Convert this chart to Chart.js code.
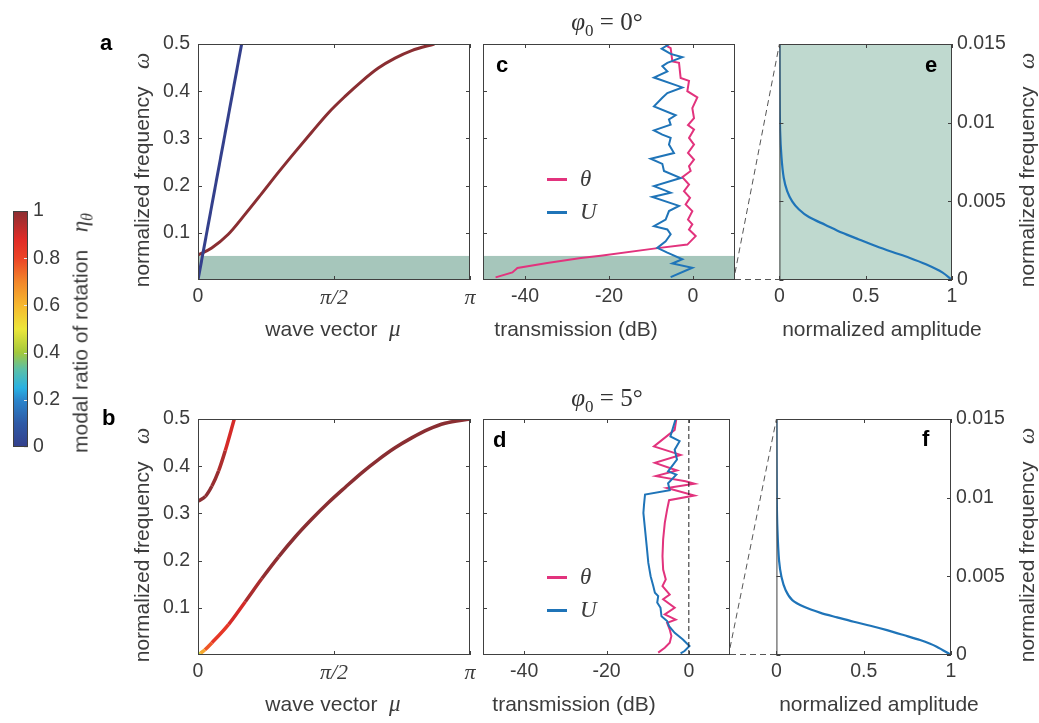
<!DOCTYPE html>
<html>
<head>
<meta charset="utf-8">
<script src="https://cdn.jsdelivr.net/npm/chart.js@4.4.0/dist/chart.umd.min.js"></script>
<style>
body { margin: 0; background: #fff; }
#fig { position: relative; width: 1039px; height: 723px; overflow: hidden; font-family: 'Liberation Sans', Arial, sans-serif; color: #3c3c3c; }
#fig canvas { position: absolute; }
.lbl { position: absolute; white-space: nowrap; font-size: 21px; line-height: 1; transform: translate(-50%, -50%); }
.rot { transform: translate(-50%, -50%) rotate(-90deg); }
.m { font-family: 'Liberation Serif', 'DejaVu Serif', serif; font-style: italic; font-size: 23px; }
.tt { font-family: 'Liberation Serif', 'DejaVu Serif', serif; font-size: 25px; color: #333; }
.sub { font-size: 17px; position: relative; top: 6px; font-style: normal; }
.let { position: absolute; font-weight: bold; font-size: 22px; line-height: 1; color: #000; }
.leg { position: absolute; display: flex; align-items: center; transform: translateY(-50%); }
.sw { display: inline-block; width: 20px; height: 3px; margin-right: 13px; }
</style>
</head>
<body>
<div id="fig">
  <canvas id="cbar"></canvas>
  <canvas id="pa"></canvas>
  <canvas id="pc"></canvas>
  <canvas id="pe"></canvas>
  <canvas id="pb"></canvas>
  <canvas id="pd"></canvas>
  <canvas id="pf"></canvas>
  <canvas id="links" width="1039" height="723"></canvas>

  <div class="lbl tt" style="left:607px;top:21px"><span class="m" style="font-size:25px">φ</span><span class="sub">0</span>&nbsp;=&nbsp;0°</div>
  <div class="lbl tt" style="left:607px;top:397px"><span class="m" style="font-size:25px">φ</span><span class="sub">0</span>&nbsp;=&nbsp;5°</div>

  <div class="let" style="left:100px;top:32px">a</div>
  <div class="let" style="left:102px;top:407px">b</div>
  <div class="let" style="left:496px;top:54px">c</div>
  <div class="let" style="left:493px;top:429px">d</div>
  <div class="let" style="left:925px;top:54px">e</div>
  <div class="let" style="left:922px;top:428px">f</div>

  <div class="lbl rot" style="left:141px;top:170px">normalized frequency&nbsp;&nbsp;&nbsp;<span class="m">ω</span></div>
  <div class="lbl rot" style="left:141px;top:545px">normalized frequency&nbsp;&nbsp;&nbsp;<span class="m">ω</span></div>
  <div class="lbl rot" style="left:1026px;top:170px">normalized frequency&nbsp;&nbsp;&nbsp;<span class="m">ω</span></div>
  <div class="lbl rot" style="left:1026px;top:545px">normalized frequency&nbsp;&nbsp;&nbsp;<span class="m">ω</span></div>
  <div class="lbl rot" style="left:80px;top:333px">modal ratio of rotation&nbsp;&nbsp;&nbsp;<span class="m">η</span><span class="m" style="font-size:16px;position:relative;top:5px">θ</span></div>

  <div class="lbl" style="left:333px;top:328px">wave vector&nbsp;&nbsp;<span class="m">μ</span></div>
  <div class="lbl" style="left:333px;top:703px">wave vector&nbsp;&nbsp;<span class="m">μ</span></div>
  <div class="lbl" style="left:576px;top:328px">transmission (dB)</div>
  <div class="lbl" style="left:574px;top:703px">transmission (dB)</div>
  <div class="lbl" style="left:882px;top:328px">normalized amplitude</div>
  <div class="lbl" style="left:879px;top:703px">normalized amplitude</div>

  <div class="leg" style="left:547px;top:179px"><i class="sw" style="background:#e2337d"></i><span class="m">θ</span></div>
  <div class="leg" style="left:547px;top:212px"><i class="sw" style="background:#1f74b8"></i><span class="m">U</span></div>
  <div class="leg" style="left:547px;top:577px"><i class="sw" style="background:#e2337d"></i><span class="m">θ</span></div>
  <div class="leg" style="left:547px;top:610px"><i class="sw" style="background:#1f74b8"></i><span class="m">U</span></div>
</div>

<script>
// ---- data ----
var muTicks = [0, Math.PI / 2, Math.PI];
var muTickLabels = ['0', 'π/2', 'π'];
var omegaTicks = [0.1, 0.2, 0.3, 0.4, 0.5];
var dbTicks = [-40, -20, 0];
var ampTicks = [0, 0.5, 1];
var zoomTicks = [0, 0.005, 0.01, 0.015];
var cbarTicks = [0, 0.2, 0.4, 0.6, 0.8, 1];
var stopBand = [0, 0.051];

// a: phi0 = 0 dispersion
var aBlueMu = [0, 0.504];
var aBlueOmega = [0, 0.5];
var aRedMu = [0, 0.158, 0.35, 0.543, 0.735, 0.928, 1.12, 1.313, 1.505, 1.698, 1.891, 2.083, 2.276, 2.468, 2.73];
var aRedOmega = [0.053, 0.068, 0.097, 0.139, 0.183, 0.228, 0.271, 0.313, 0.354, 0.389, 0.421, 0.449, 0.470, 0.486, 0.5];

// b: phi0 = 5 dispersion (with modal ratio eta)
var bLowMu = [0, 0.03, 0.08, 0.161, 0.354, 0.546, 0.738, 0.930, 1.122, 1.315, 1.507, 1.699, 1.891, 2.084, 2.276, 2.468, 2.66, 2.853, 3.1416];
var bLowOmega = [0, 0.004, 0.011, 0.026, 0.065, 0.113, 0.162, 0.208, 0.250, 0.288, 0.323, 0.355, 0.386, 0.414, 0.439, 0.460, 0.478, 0.491, 0.5];
var bLowEta = [0.35, 0.55, 0.72, 0.82, 0.86, 0.93, 0.98, 1, 1, 1, 1, 1, 1, 1, 1, 1, 1, 1, 1];
var bUpMu = [0, 0.085, 0.161, 0.238, 0.315, 0.419];
var bUpOmega = [0.326, 0.336, 0.358, 0.39, 0.433, 0.5];
var bUpEta = [1, 1, 0.99, 0.97, 0.93, 0.86];

// c: transmission, phi0 = 0
var cUdB = [-5.56, -7.46, -5.32, -2.54, -6.11, -7.30, -6.11, -9.29, -2.54, -6.11, -7.30, -9.29, -4.13, -5.72, -5.32, -9.29, -7.30, -5.32, -5.72, -4.53, -10.08, -7.30, -6.91, -2.94, -9.29, -5.32, -9.69, -3.33, -5.72, -6.51, -9.29, -6.11, -5.32, -6.51, -8.50, -6.11, -2.54, -4.92, -0.16, -5.32];
var cUOmega = [0.500, 0.490, 0.479, 0.472, 0.460, 0.453, 0.442, 0.429, 0.408, 0.396, 0.386, 0.368, 0.349, 0.340, 0.329, 0.317, 0.308, 0.301, 0.287, 0.269, 0.257, 0.246, 0.231, 0.216, 0.199, 0.185, 0.176, 0.157, 0.146, 0.128, 0.114, 0.107, 0.097, 0.082, 0.068, 0.058, 0.044, 0.035, 0.026, 0.006];
var cThetaDB = [-6.51, -5.32, -4.92, -3.33, -2.94, -0.95, -1.35, 1.03, -0.16, 0.24, -1.19, 0.24, -0.95, 0.24, -1.19, 0.24, -0.95, -0.56, -2.54, -0.95, -2.14, -0.71, -1.75, -0.16, -1.19, -0.16, -0.95, 0.64, -1.35, -8.89, -21.98, -26.7, -34.7, -41.8, -43.0, -47.0];
var cThetaOmega = [0.497, 0.491, 0.463, 0.460, 0.428, 0.422, 0.400, 0.387, 0.364, 0.343, 0.328, 0.319, 0.301, 0.287, 0.269, 0.255, 0.241, 0.231, 0.218, 0.202, 0.188, 0.174, 0.160, 0.146, 0.128, 0.118, 0.107, 0.093, 0.075, 0.067, 0.0514, 0.0465, 0.036, 0.0254, 0.016, 0.0055];

// d: transmission, phi0 = 5
var dUdB = [-3.2, -4.48, -2.24, -3.44, -2.88, -5.04, -3.04, -5.04, -4.64, -10.64, -10.88, -11.04, -10.64, -10.24, -9.84, -9.28, -8.64, -8.24, -7.44, -7.68, -6.88, -6.64, -5.28, -4.8, -3.44, -1.44, 0.16, -1.04, -2.0];
var dUOmega = [0.5, 0.463, 0.453, 0.435, 0.414, 0.389, 0.382, 0.364, 0.349, 0.340, 0.319, 0.301, 0.266, 0.231, 0.195, 0.167, 0.146, 0.132, 0.125, 0.111, 0.100, 0.082, 0.072, 0.061, 0.047, 0.033, 0.019, 0.0085, 0.0035];
var dThetaDB = [-3.04, -3.44, -8.48, -2.0, -8.24, -2.88, -8.0, -0.8, 1.36, -5.28, 1.36, -4.8, -5.28, -5.84, -6.24, -6.4, -6.24, -5.6, -6.4, -4.64, -6.24, -3.44, -5.84, -3.2, -5.28, -4.64, -4.24, -4.64, -5.84, -7.44];
var dThetaOmega = [0.5, 0.477, 0.442, 0.424, 0.407, 0.391, 0.379, 0.368, 0.363, 0.354, 0.338, 0.328, 0.308, 0.28, 0.245, 0.209, 0.181, 0.160, 0.146, 0.128, 0.118, 0.100, 0.086, 0.075, 0.068, 0.054, 0.040, 0.026, 0.0155, 0.005];
var zeroLineDB = [0, 0];
var zeroLineOmega = [0, 0.5];

// e, f: amplitude profiles
var eAmp = [1, 0.946, 0.849, 0.752, 0.655, 0.558, 0.461, 0.364, 0.267, 0.171, 0.112, 0.074, 0.045, 0.025, 0.012, 0.004, 0.001, 0];
var eOmega = [0, 0.00047, 0.001, 0.00142, 0.00178, 0.00216, 0.00258, 0.003, 0.0035, 0.004, 0.0045, 0.005, 0.00565, 0.0065, 0.0078, 0.0095, 0.0122, 0.015];
var fAmp = [1, 0.918, 0.823, 0.728, 0.633, 0.538, 0.443, 0.348, 0.253, 0.158, 0.091, 0.053, 0.029, 0.015, 0.006, 0.002, 0];
var fOmega = [0, 0.00053, 0.00095, 0.00127, 0.00158, 0.00186, 0.00211, 0.00239, 0.00268, 0.00306, 0.00349, 0.00412, 0.00496, 0.00602, 0.00792, 0.01, 0.015];

// ---- styling ----
var FONT = "'Liberation Sans', Arial, sans-serif";
var SERIF = "'Liberation Serif', 'DejaVu Serif', serif";
var AX = '#404040';
var TXT = '#3c3c3c';
var PINK = '#e2337d';
var BLUE = '#1f74b8';
var TICK_SIZE = 19.5;
var cmapStops = [[0, '#34408c'], [0.1, '#2f5aa6'], [0.2, '#2b86cc'], [0.25, '#29b1e3'], [0.33, '#5cc0a6'], [0.4, '#a3c83c'],
  [0.5, '#ece63a'], [0.6, '#f6b82f'], [0.7, '#f2862a'], [0.8, '#ec4326'], [0.88, '#e02b27'], [1, '#8a2e32']];

function hexRgb(h) { return [parseInt(h.substr(1, 2), 16), parseInt(h.substr(3, 2), 16), parseInt(h.substr(5, 2), 16)]; }
function cmap(v) {
  for (var i = 1; i < cmapStops.length; i++) {
    if (v <= cmapStops[i][0]) {
      var a = cmapStops[i - 1], b = cmapStops[i], t = (v - a[0]) / (b[0] - a[0]);
      var ca = hexRgb(a[1]), cb = hexRgb(b[1]);
      return 'rgb(' + ca.map(function (c, k) { return Math.round(c + (cb[k] - c) * t); }).join(',') + ')';
    }
  }
  return cmapStops[cmapStops.length - 1][1];
}
function xy(xs, ys) { return xs.map(function (v, i) { return { x: v, y: ys[i] }; }); }
function etaColor(eta) {
  return function (ctx) { return cmap((eta[ctx.p0DataIndex] + eta[ctx.p1DataIndex]) / 2); };
}

// box with inward ticks (matlab style), background and stop band
var framePlugin = {
  id: 'frame',
  beforeDatasetsDraw: function (chart, args, o) {
    var a = chart.chartArea, c = chart.ctx, y = chart.scales.y;
    c.save();
    if (o.bg) { c.fillStyle = o.bg; c.fillRect(a.left, a.top, a.right - a.left, a.bottom - a.top); }
    if (o.band) {
      var y0 = y.getPixelForValue(o.band[0]), y1 = y.getPixelForValue(o.band[1]);
      c.fillStyle = o.bandColor; c.fillRect(a.left, y1, a.right - a.left, y0 - y1);
    }
    if (o.gradient) {
      var g = c.createLinearGradient(0, y.getPixelForValue(0), 0, y.getPixelForValue(1));
      cmapStops.forEach(function (s) { g.addColorStop(s[0], s[1]); });
      c.fillStyle = g; c.fillRect(a.left, a.top, a.right - a.left, a.bottom - a.top);
    }
    c.restore();
  },
  afterDraw: function (chart, args, o) {
    var a = chart.chartArea, c = chart.ctx, L = 4, sx = chart.scales.x, sy = chart.scales.y;
    c.save();
    c.strokeStyle = o.tickColor || AX; c.lineWidth = 1;
    c.beginPath();
    sx.ticks.forEach(function (t) {
      var p = Math.round(sx.getPixelForValue(t.value)) + 0.5;
      c.moveTo(p, a.bottom); c.lineTo(p, a.bottom - L);
      c.moveTo(p, a.top); c.lineTo(p, a.top + L);
    });
    sy.ticks.forEach(function (t) {
      var p = Math.round(sy.getPixelForValue(t.value)) + 0.5;
      if (!o.rightOnly) { c.moveTo(a.left, p); c.lineTo(a.left + L, p); }
      c.moveTo(a.right, p); c.lineTo(a.right - L, p);
    });
    c.stroke();
    c.strokeStyle = AX;
    c.strokeRect(a.left + 0.5, a.top + 0.5, a.right - a.left - 1, a.bottom - a.top - 1);
    c.restore();
  }
};

function label(v) { return String(v); }

function makeChart(id, box, m, o) {
  var cv = document.getElementById(id);
  cv.width = box[2] + m[1] + m[3];
  cv.height = box[3] + m[0] + m[2];
  cv.style.left = (box[0] - m[3]) + 'px';
  cv.style.top = (box[1] - m[0]) + 'px';
  var yRight = o.yPos === 'right';
  return new Chart(cv, {
    type: 'line',
    data: { datasets: o.datasets },
    options: {
      responsive: false,
      animation: false,
      events: [],
      layout: { padding: { top: m[0], right: yRight ? 0 : m[1], left: yRight ? m[3] : 0, bottom: 0 } },
      elements: { point: { radius: 0 } },
      plugins: { legend: { display: false }, tooltip: { enabled: false }, frame: o.frame || {} },
      scales: {
        x: {
          type: 'linear', min: o.x[0], max: o.x[1],
          grid: { display: false, drawTicks: false }, border: { display: false },
          afterBuildTicks: function (s) { s.ticks = o.xTicks.map(function (v) { return { value: v }; }); },
          afterFit: function (s) { s.height = m[2]; },
          ticks: { display: o.xTicks.length > 0, padding: 5, color: TXT, autoSkip: false, maxRotation: 0,
            font: o.xFont || { family: FONT, size: TICK_SIZE }, callback: o.xLabel || label }
        },
        y: {
          type: 'linear', min: o.y[0], max: o.y[1], position: o.yPos || 'left',
          grid: { display: false, drawTicks: false }, border: { display: false },
          afterBuildTicks: function (s) { s.ticks = o.yTicks.map(function (v) { return { value: v }; }); },
          afterFit: function (s) { s.width = yRight ? m[1] : m[3]; },
          ticks: { display: o.yShow !== false, padding: yRight ? 5 : 8, color: TXT, autoSkip: false,
            font: { family: FONT, size: TICK_SIZE }, callback: label }
        }
      }
    },
    plugins: [framePlugin]
  });
}

var muFont = function (c) {
  return c.tick && c.tick.value > 0 ? { family: SERIF, size: 22, style: 'italic' } : { family: FONT, size: TICK_SIZE };
};
var muLabel = function (v, i) { return muTickLabels[i]; };

// colorbar
makeChart('cbar', [13, 211, 15, 236], [26, 40, 26, 4], {
  x: [0, 1], y: [0, 1], xTicks: [], yTicks: cbarTicks, yPos: 'right',
  datasets: [], frame: { gradient: true, rightOnly: true, tickColor: '#e8e8e8' }
});

// a
makeChart('pa', [198, 44, 272, 236], [26, 14, 60, 75], {
  x: [0, Math.PI], y: [0, 0.5], xTicks: muTicks, yTicks: omegaTicks, xFont: muFont, xLabel: muLabel,
  frame: { band: stopBand, bandColor: '#a6c6bb' },
  datasets: [
    { data: xy(aBlueMu, aBlueOmega), borderColor: cmap(0), borderWidth: 3 },
    { data: xy(aRedMu, aRedOmega), borderColor: cmap(1), borderWidth: 3, cubicInterpolationMode: 'monotone' }
  ]
});

// b
makeChart('pb', [198, 419, 272, 236], [26, 14, 60, 75], {
  x: [0, Math.PI], y: [0, 0.5], xTicks: muTicks, yTicks: omegaTicks, xFont: muFont, xLabel: muLabel,
  datasets: [
    { data: xy(bUpMu, bUpOmega), borderColor: cmap(1), borderWidth: 3.5, cubicInterpolationMode: 'monotone',
      segment: { borderColor: etaColor(bUpEta) } },
    { data: xy(bLowMu, bLowOmega), borderColor: cmap(1), borderWidth: 3.5, cubicInterpolationMode: 'monotone',
      segment: { borderColor: etaColor(bLowEta) } }
  ]
});

// c
var chartC = makeChart('pc', [483, 44, 252, 236], [26, 12, 60, 12], {
  x: [-50, 10], y: [0, 0.5], xTicks: dbTicks, yTicks: omegaTicks, yShow: false,
  frame: { band: stopBand, bandColor: '#a6c6bb' },
  datasets: [
    { data: xy(cUdB, cUOmega), borderColor: BLUE, borderWidth: 2 },
    { data: xy(cThetaDB, cThetaOmega), borderColor: PINK, borderWidth: 2 }
  ]
});

// d
var chartD = makeChart('pd', [483, 419, 247, 236], [26, 12, 60, 12], {
  x: [-50, 10], y: [0, 0.5], xTicks: dbTicks, yTicks: omegaTicks, yShow: false,
  datasets: [
    { data: xy(zeroLineDB, zeroLineOmega), borderColor: '#222', borderWidth: 1, borderDash: [5, 3] },
    { data: xy(dUdB, dUOmega), borderColor: BLUE, borderWidth: 2 },
    { data: xy(dThetaDB, dThetaOmega), borderColor: PINK, borderWidth: 2 }
  ]
});

// e
var chartE = makeChart('pe', [779, 44, 173, 236], [26, 75, 60, 10], {
  x: [0, 1], y: [0, 0.015], xTicks: ampTicks, yTicks: zoomTicks, yPos: 'right',
  frame: { bg: '#bfd9cf' },
  datasets: [{ data: xy(eAmp, eOmega), borderColor: BLUE, borderWidth: 2.2, tension: 0.3 }]
});

// f
var chartF = makeChart('pf', [776, 419, 175, 236], [26, 75, 60, 10], {
  x: [0, 1], y: [0, 0.015], xTicks: ampTicks, yTicks: zoomTicks, yPos: 'right',
  datasets: [{ data: xy(fAmp, fOmega), borderColor: BLUE, borderWidth: 2.2, tension: 0.3 }]
});

// dashed zoom connectors between transmission and amplitude panels
function connect(cc, ce) {
  var g = document.getElementById('links').getContext('2d');
  var top = ce.scales.y.max;
  var ox = cc.canvas.offsetLeft, oy = cc.canvas.offsetTop;
  var ex = ce.canvas.offsetLeft, ey = ce.canvas.offsetTop;
  var x0 = ox + cc.chartArea.right, x1 = ex + ce.chartArea.left;
  g.save();
  g.strokeStyle = '#555'; g.lineWidth = 1; g.setLineDash([6, 4]);
  g.beginPath();
  g.moveTo(x0, oy + cc.scales.y.getPixelForValue(top)); g.lineTo(x1, ey + ce.scales.y.getPixelForValue(top));
  g.moveTo(x0, oy + cc.scales.y.getPixelForValue(0) - 0.5); g.lineTo(x1, ey + ce.scales.y.getPixelForValue(0) - 0.5);
  g.stroke();
  g.restore();
}
connect(chartC, chartE);
connect(chartD, chartF);
</script>
</body>
</html>
